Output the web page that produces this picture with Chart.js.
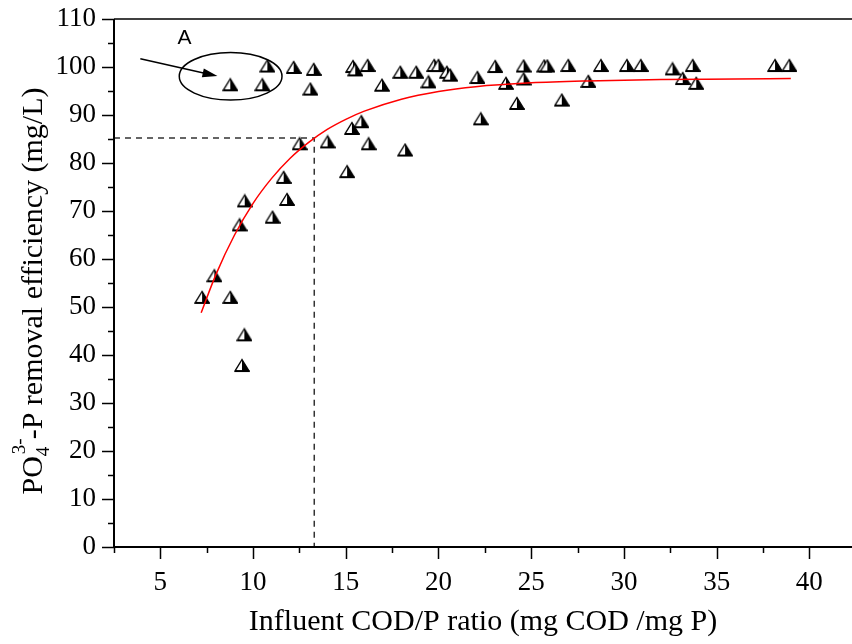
<!DOCTYPE html>
<html>
<head>
<meta charset="utf-8">
<script src="https://cdn.jsdelivr.net/npm/chart.js@4/dist/chart.umd.min.js"></script>
<style>
  html, body { margin: 0; padding: 0; background: #fff; }
  #wrap { width: 852px; height: 644px; }
</style>
</head>
<body>
<div id="wrap"><canvas id="codpChart" width="852" height="644"></canvas></div>
<script>
// measured points: influent COD/P ratio vs PO4-P removal efficiency
const ratioVals = [7.25, 7.91, 8.77, 9.27, 9.55, 9.53, 9.40, 8.77, 10.50, 10.77,
  11.05, 11.65, 11.83, 12.19, 12.51, 13.09, 13.27, 14.02, 15.07, 15.33,
  15.39, 15.51, 15.84, 16.18, 16.23, 16.95, 17.94, 18.20, 18.80, 19.46,
  19.77, 20.00, 20.45, 20.63, 22.10, 22.28, 23.06, 23.64, 24.23, 24.59,
  24.59, 25.70, 25.87, 26.65, 27.00, 28.08, 28.76, 30.16, 30.91, 32.62,
  33.17, 33.71, 33.90, 38.15, 38.92];
const removalVals = [52.0, 56.5, 52.0, 67.1, 72.1, 44.2, 37.8, 96.3, 96.3, 100.2,
  68.7, 77.0, 72.4, 99.9, 84.0, 95.4, 99.5, 84.4, 78.2, 87.2,
  100.1, 99.4, 88.6, 100.3, 84.0, 96.2, 98.9, 82.7, 98.9, 96.9,
  100.3, 100.3, 98.9, 98.3, 97.8, 89.2, 100.1, 96.6, 92.4, 100.2,
  97.5, 100.2, 100.2, 93.1, 100.3, 97.0, 100.3, 100.3, 100.3, 99.6,
  97.6, 100.3, 96.6, 100.3, 100.3];

// red fitted curve
const fitX = [7.2, 8, 9, 10, 11, 12, 13, 14, 15, 16, 18, 20, 22, 25, 28, 32, 36, 39];
const fitY = [48.8, 56.8, 65.0, 71.6, 76.8, 81.0, 84.3, 87.0, 89.1, 90.8, 93.3, 94.9, 95.9, 96.7, 97.1, 97.4, 97.5, 97.6];

// dashed guide at the marked point
const guideX = 13.3;
const guideY = 85.2;

const xTicks = [5, 10, 15, 20, 25, 30, 35, 40];
const yTicks = [0, 10, 20, 30, 40, 50, 60, 70, 80, 90, 100, 110];

function makeMarker() {
  const c = document.createElement('canvas');
  c.width = 16; c.height = 15;
  const g = c.getContext('2d');
  g.fillStyle = '#fff';
  g.beginPath(); g.moveTo(8, 1.5); g.lineTo(1, 13); g.lineTo(15, 13); g.closePath(); g.fill();
  g.fillStyle = '#000';
  g.beginPath(); g.moveTo(8, 1.5); g.lineTo(15, 13); g.lineTo(8, 13); g.closePath(); g.fill();
  g.strokeStyle = '#000'; g.lineWidth = 1.4;
  g.beginPath(); g.moveTo(8, 1.5); g.lineTo(1, 13); g.lineTo(15, 13); g.closePath(); g.stroke();
  g.fillRect(1, 12, 14.5, 2);
  return c;
}

const serif = "'Liberation Serif', 'Times New Roman', serif";

const axesPlugin = {
  id: 'axesPlugin',
  afterDatasetsDraw(chart) {
    const { ctx, chartArea: a, scales: { x, y } } = chart;
    ctx.save();
    ctx.strokeStyle = '#000';
    // frame: left, bottom, top
    ctx.lineWidth = 2;
    ctx.beginPath();
    ctx.moveTo(a.left, a.top); ctx.lineTo(a.left, a.bottom); ctx.lineTo(a.right, a.bottom);
    ctx.stroke();
    ctx.lineWidth = 1.5;
    ctx.beginPath(); ctx.moveTo(a.left, a.top); ctx.lineTo(a.right, a.top); ctx.stroke();
    // ticks
    ctx.lineWidth = 1.5;
    ctx.beginPath();
    for (let v = 0; v <= 110; v += 5) {
      const py = Math.round(y.getPixelForValue(v)) + 0.5;
      const len = v % 10 === 0 ? 12 : 6;
      ctx.moveTo(a.left - len, py); ctx.lineTo(a.left, py);
    }
    for (let v = 2.5; v <= x.max; v += 2.5) {
      const px = Math.round(x.getPixelForValue(v)) + 0.5;
      const len = v % 5 === 0 ? 12 : 6;
      ctx.moveTo(px, a.bottom); ctx.lineTo(px, a.bottom + len);
    }
    ctx.stroke();

    // circled group "A"
    ctx.lineWidth = 1.5;
    const cx = x.getPixelForValue(8.79), cy = y.getPixelForValue(98.06);
    const rx = x.getPixelForValue(8.79 + 2.77) - cx;
    const ry = cy - y.getPixelForValue(98.06 + 4.94);
    ctx.beginPath(); ctx.ellipse(cx, cy, rx, ry, 0, 0, Math.PI * 2); ctx.stroke();
    const x0 = x.getPixelForValue(3.92), y0 = y.getPixelForValue(101.7);
    const x1 = x.getPixelForValue(8.08), y1 = y.getPixelForValue(98.1);
    const ang = Math.atan2(y1 - y0, x1 - x0);
    ctx.beginPath(); ctx.moveTo(x0, y0);
    ctx.lineTo(x1 - 12 * Math.cos(ang), y1 - 12 * Math.sin(ang)); ctx.stroke();
    ctx.fillStyle = '#000';
    ctx.beginPath();
    ctx.moveTo(x1, y1);
    ctx.lineTo(x1 - 15 * Math.cos(ang) + 4.5 * Math.sin(ang), y1 - 15 * Math.sin(ang) - 4.5 * Math.cos(ang));
    ctx.lineTo(x1 - 15 * Math.cos(ang) - 4.5 * Math.sin(ang), y1 - 15 * Math.sin(ang) + 4.5 * Math.cos(ang));
    ctx.closePath(); ctx.fill();
    ctx.font = "21px 'Liberation Sans', Arial, sans-serif";
    ctx.textAlign = 'center'; ctx.textBaseline = 'middle';
    ctx.fillText('A', x.getPixelForValue(6.3), y.getPixelForValue(106.0));

    // axis titles
    ctx.textBaseline = 'alphabetic';
    ctx.font = '30px ' + serif;
    ctx.fillText('Influent COD/P ratio (mg COD /mg P)', (a.left + a.right) / 2, 630);

    ctx.translate(42, 291);
    ctx.rotate(-Math.PI / 2);
    const big = '30px ' + serif, small = '19px ' + serif;
    ctx.font = big;
    const p1 = 'PO', p3 = '-P removal efficiency (mg/L)';
    ctx.font = small;
    const wSub = ctx.measureText('4').width, wSup = ctx.measureText('3-').width;
    ctx.font = big;
    const w1 = ctx.measureText(p1).width, w3 = ctx.measureText(p3).width;
    const total = w1 + Math.max(wSub, wSup) + 1 + w3;
    let tx = -total / 2;
    ctx.textAlign = 'left';
    ctx.fillText(p1, tx, 0); tx += w1;
    ctx.font = small;
    ctx.fillText('4', tx, 7);
    ctx.fillText('3-', tx + 2, -17);
    tx += Math.max(wSub, wSup) + 1;
    ctx.font = big;
    ctx.fillText(p3, tx, 0);
    ctx.restore();
  }
};

const ctx = document.getElementById('codpChart').getContext('2d');

new Chart(ctx, {
  type: 'scatter',
  data: {
    datasets: [
      {
        type: 'line',
        data: fitX.map((v, i) => ({ x: v, y: fitY[i] })),
        borderColor: '#ff0000',
        borderWidth: 1.5,
        pointRadius: 0,
        cubicInterpolationMode: 'monotone',
        fill: false,
        order: 0
      },
      {
        data: ratioVals.map((v, i) => ({ x: v, y: removalVals[i] })),
        pointStyle: makeMarker(),
        pointRadius: 7,
        order: 1
      },
      {
        type: 'line',
        data: [{ x: 2.5, y: guideY }, { x: guideX, y: guideY }, { x: guideX, y: 0 }],
        borderColor: '#333',
        borderWidth: 1.5,
        borderDash: [6, 5],
        pointRadius: 0,
        fill: false,
        order: 2
      }
    ]
  },
  options: {
    responsive: false,
    animation: false,
    layout: { autoPadding: false, padding: { top: 19, right: 0, left: 0, bottom: 0 } },
    plugins: {
      legend: { display: false },
      tooltip: { enabled: false }
    },
    scales: {
      x: {
        type: 'linear',
        min: 2.5,
        max: 42.3,
        afterBuildTicks: (axis) => { axis.ticks = xTicks.map(v => ({ value: v })); },
        afterFit: (scale) => {
          scale.height = 97;
          scale.paddingLeft = 0; scale.paddingRight = 0;
        },
        grid: { display: false, drawTicks: false },
        border: { display: false },
        ticks: {
          color: '#000',
          font: { family: serif, size: 27 },
          padding: 20,
          maxRotation: 0,
          autoSkip: false
        }
      },
      y: {
        min: 0,
        max: 110,
        afterBuildTicks: (axis) => { axis.ticks = yTicks.map(v => ({ value: v })); },
        afterFit: (scale) => {
          scale.width = 114;
          scale.paddingTop = 0; scale.paddingBottom = 0;
        },
        grid: { display: false, drawTicks: false },
        border: { display: false },
        ticks: {
          color: '#000',
          font: { family: serif, size: 27 },
          padding: 18
        }
      }
    }
  },
  plugins: [axesPlugin]
});
</script>
</body>
</html>
